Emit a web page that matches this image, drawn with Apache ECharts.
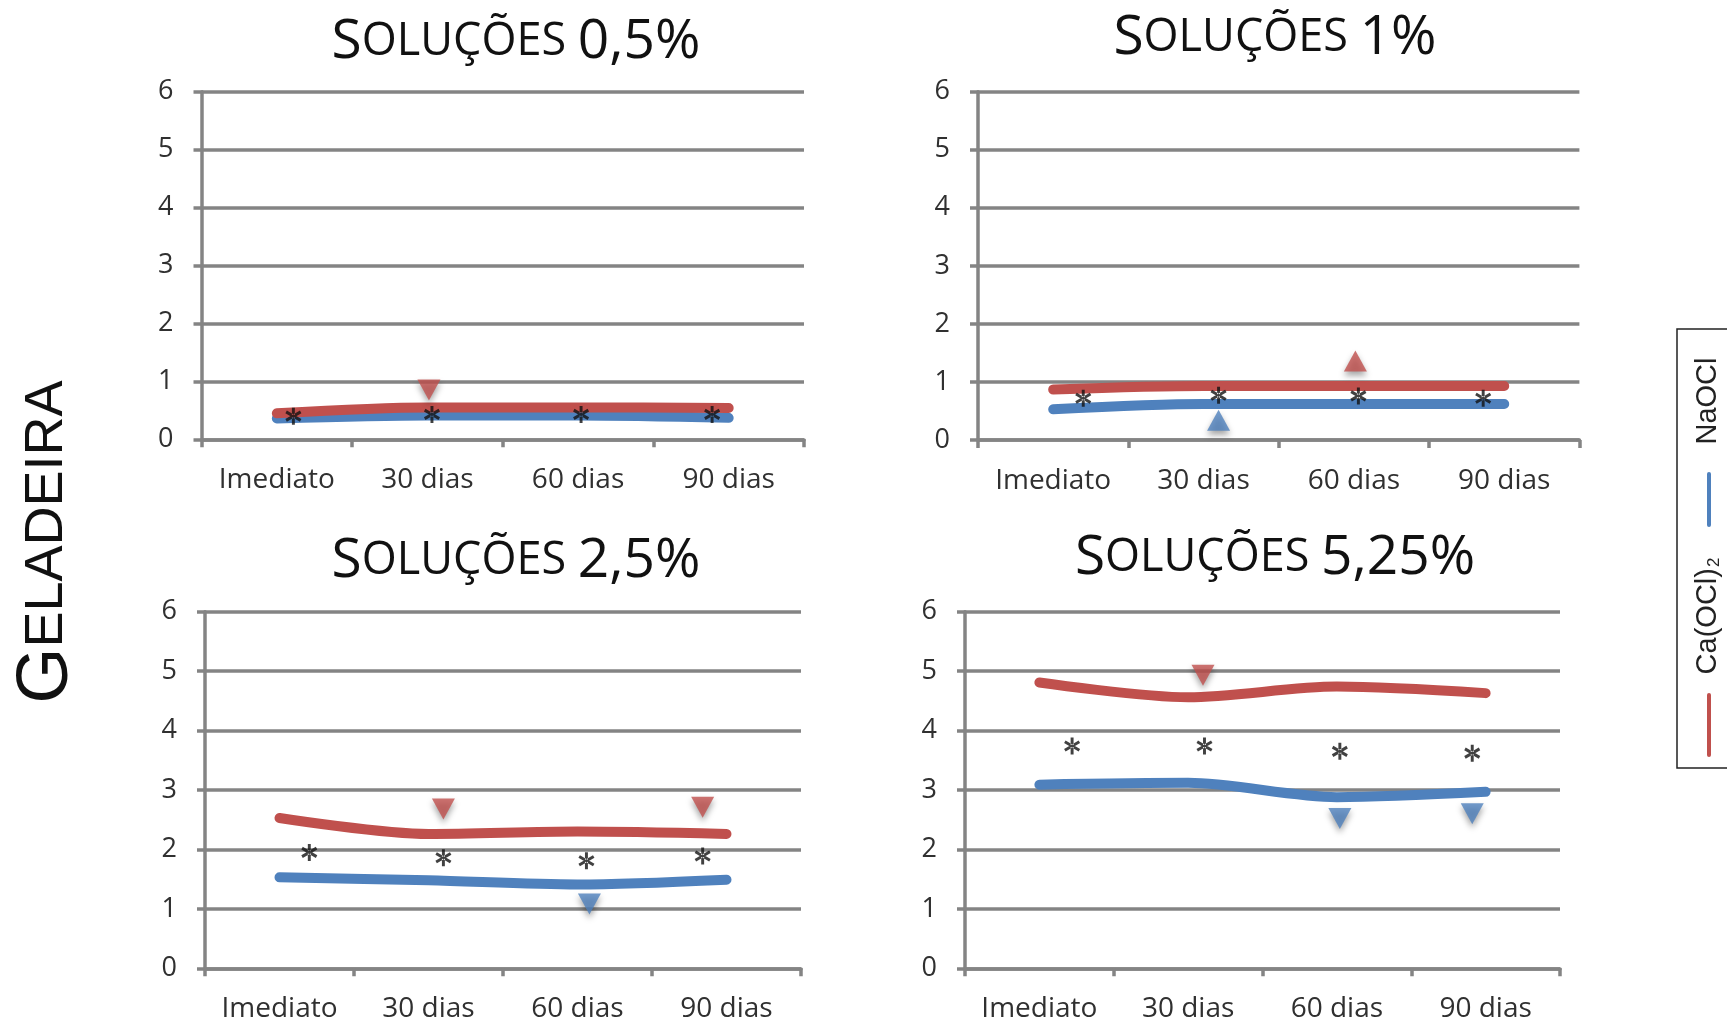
<!DOCTYPE html>
<html>
<head>
<meta charset="utf-8">
<title>Geladeira – Soluções</title>
<script src="https://cdn.jsdelivr.net/npm/echarts@6/dist/echarts.min.js"></script>
<style>
  html, body { margin: 0; padding: 0; background: #ffffff; }
  #chart { width: 1727px; height: 1027px; }
</style>
</head>
<body>
<div id="chart"></div>
<script>
// Time points on the category axis
const categories = ['Imediato', '30 dias', '60 dias', '90 dias'];
const yTicks = [0, 1, 2, 3, 4, 5, 6];
const concentrations = ['0,5%', '1%', '2,5%', '5,25%'];

// Ca(OCl)2 values per concentration
const ca05 = [0.45, 0.55, 0.55, 0.54];
const ca1 = [0.87, 0.93, 0.93, 0.93];
const ca25 = [2.53, 2.26, 2.30, 2.26];
const ca525 = [4.81, 4.56, 4.74, 4.63];

// NaOCl values per concentration
const na05 = [0.36, 0.41, 0.41, 0.37];
const na1 = [0.53, 0.62, 0.62, 0.62];
const na25 = [1.53, 1.48, 1.41, 1.49];
const na525 = [3.09, 3.12, 2.88, 2.97];

// Asterisks (significant difference between solutions): [position along the 4 periods, value]
const star05 = [[0.61, 0.40], [1.53, 0.43], [2.52, 0.43], [3.39, 0.43]];
const star1 = [[0.70, 0.72], [1.60, 0.77], [2.53, 0.76], [3.36, 0.72]];
const star25 = [[0.70, 1.95], [1.60, 1.86], [2.56, 1.81], [3.34, 1.89]];
const star525 = [[0.72, 3.74], [1.61, 3.74], [2.52, 3.65], [3.41, 3.62]];

// Triangles (change relative to the previous period): [position, value]
const caDown05 = [[1.51, 0.85]];
const caUp1 = [[2.51, 1.36]];
const naUp1 = [[1.60, 0.34]];
const caDown25 = [[1.60, 2.68], [3.34, 2.71]];
const naDown25 = [[2.58, 1.08]];
const caDown525 = [[1.60, 4.93]];
const naDown525 = [[2.52, 2.52], [3.41, 2.60]];

const panels = [
  { conc: concentrations[0], ca: ca05, na: na05, stars: star05, caUp: [], caDown: caDown05, naUp: [], naDown: [] },
  { conc: concentrations[1], ca: ca1, na: na1, stars: star1, caUp: caUp1, caDown: [], naUp: naUp1, naDown: [] },
  { conc: concentrations[2], ca: ca25, na: na25, stars: star25, caUp: [], caDown: caDown25, naUp: [], naDown: naDown25 },
  { conc: concentrations[3], ca: ca525, na: na525, stars: star525, caUp: [], caDown: caDown525, naUp: [], naDown: naDown525 }
];

const RED = '#C0504D';
const BLUE = '#4F81BD';
const GRID_GRAY = '#848484';
const LABEL_COLOR = '#303030';
const FONT = "'Open Sans', 'Noto Sans', sans-serif";

const gridBoxes = [
  { left: 201.5, top: 91.7, width: 602.5, height: 347.6 },
  { left: 978, top: 91.7, width: 601.4, height: 348.3 },
  { left: 205, top: 611.7, width: 596, height: 356.6 },
  { left: 965, top: 611.7, width: 595, height: 356.6 }
];
const titleCenters = [[516, 42], [1275, 38], [516, 561], [1275, 558]];

// six-armed asterisk glyph
const ASTERISK = 'path://M-1.4,-8L1.4,-8L1.4,8L-1.4,8Z' +
  'M7.63,2.79L-6.23,-5.21L-7.63,-2.79L6.23,5.21Z' +
  'M-7.63,2.79L-6.23,5.21L7.63,-2.79L6.23,-5.21Z';

const triShadow = { shadowBlur: 6, shadowColor: 'rgba(0,0,0,0.45)', shadowOffsetY: 4 };

const grid = [], xAxis = [], yAxis = [], series = [], graphic = [];

panels.forEach((p, i) => {
  grid.push(Object.assign({ containLabel: false }, gridBoxes[i]));

  xAxis.push({
    type: 'category', gridIndex: i, data: categories, boundaryGap: true,
    axisLine: { show: true, lineStyle: { color: GRID_GRAY, width: 3.5 } },
    axisTick: { show: true, interval: 0, length: 8, lineStyle: { color: GRID_GRAY, width: 3.5 } },
    axisLabel: { interval: 0, fontSize: 28, fontFamily: FONT, color: LABEL_COLOR, margin: 27 },
    splitLine: { show: false }
  });
  xAxis.push({ type: 'value', gridIndex: i, min: 0, max: 4, show: false });

  yAxis.push({
    type: 'value', gridIndex: i, min: yTicks[0], max: yTicks[yTicks.length - 1], interval: 1,
    axisLine: { show: true, lineStyle: { color: GRID_GRAY, width: 3.5 } },
    axisTick: { show: true, length: 8, lineStyle: { color: GRID_GRAY, width: 3.5 } },
    axisLabel: { fontSize: 27, fontFamily: FONT, color: LABEL_COLOR, margin: 28 },
    splitLine: { show: true, lineStyle: { color: GRID_GRAY, width: 3.5 } }
  });

  const lineBase = { type: 'line', xAxisIndex: 2 * i, yAxisIndex: i, smooth: 0.3, symbol: 'none', z: 3 };
  series.push(Object.assign({}, lineBase, {
    name: 'NaOCl', data: p.na,
    lineStyle: { color: BLUE, width: 10, cap: 'round', join: 'round' }
  }));
  series.push(Object.assign({}, lineBase, {
    name: 'Ca(OCl)2', data: p.ca,
    lineStyle: { color: RED, width: 10, cap: 'round', join: 'round' }
  }));

  const scatterBase = { type: 'scatter', xAxisIndex: 2 * i + 1, yAxisIndex: i, z: 5 };
  series.push(Object.assign({}, scatterBase, {
    data: p.stars, symbol: ASTERISK, symbolSize: [16, 17],
    itemStyle: { color: '#111111' }
  }));
  [[p.caUp, RED, 0], [p.caDown, RED, 180], [p.naUp, BLUE, 0], [p.naDown, BLUE, 180]].forEach(([d, c, rot]) => {
    if (!d.length) return;
    series.push(Object.assign({}, scatterBase, {
      data: d, symbol: 'triangle', symbolSize: [23, 21], symbolRotate: rot,
      itemStyle: Object.assign({ color: c }, triShadow)
    }));
  });

  // panel title in small caps
  graphic.push({
    type: 'text', x: titleCenters[i][0], y: titleCenters[i][1], z: 10,
    style: {
      text: '{b|S}{s|OLUÇÕES }{b|' + p.conc + '}',
      align: 'center', verticalAlign: 'middle', fill: '#111',
      rich: {
        b: { fontSize: 55, fontFamily: FONT, fill: '#111' },
        s: { fontSize: 45, fontFamily: FONT, fill: '#111' }
      }
    }
  });
});

// row label at the left, reading bottom to top
graphic.push({
  type: 'text', x: 47, y: 542, rotation: Math.PI / 2, z: 10,
  style: {
    text: '{b|G}{s|ELADEIRA}', align: 'center', verticalAlign: 'middle',
    rich: {
      b: { fontSize: 72, fontFamily: "'Liberation Sans', Arial, sans-serif", fill: '#111' },
      s: { fontSize: 54, fontFamily: "'Liberation Sans', Arial, sans-serif", fill: '#111' }
    }
  }
});

// legend box on the right edge, entries reading bottom to top
const LEGEND_FONT = "'Liberation Sans', Arial, sans-serif";
graphic.push({
  type: 'rect', shape: { x: 1677, y: 329, width: 80, height: 439 }, z: 10,
  style: { fill: null, stroke: '#222', lineWidth: 1.5 }
});
graphic.push({
  type: 'line', shape: { x1: 1709, y1: 695, x2: 1709, y2: 755 }, z: 11,
  style: { stroke: RED, lineWidth: 4, lineCap: 'round' }
});
graphic.push({
  type: 'line', shape: { x1: 1709, y1: 474, x2: 1709, y2: 525 }, z: 11,
  style: { stroke: BLUE, lineWidth: 4, lineCap: 'round' }
});
graphic.push({
  type: 'text', x: 1708, y: 616, rotation: Math.PI / 2, z: 11,
  style: {
    text: '{t|Ca(OCl)}{sub|2}', align: 'center', verticalAlign: 'middle',
    rich: {
      t: { fontSize: 29, fontFamily: LEGEND_FONT, fill: '#222' },
      sub: { fontSize: 17, fontFamily: LEGEND_FONT, fill: '#222', padding: [12, 0, 0, 1] }
    }
  }
});
graphic.push({
  type: 'text', x: 1708, y: 401, rotation: Math.PI / 2, z: 11,
  style: {
    text: 'NaOCl', align: 'center', verticalAlign: 'middle',
    fontSize: 29, fontFamily: LEGEND_FONT, fill: '#222'
  }
});

const chart = echarts.init(document.getElementById('chart'), null, { renderer: 'canvas' });
chart.setOption({
  animation: false,
  backgroundColor: '#ffffff',
  grid, xAxis, yAxis, series, graphic
});
</script>
</body>
</html>
